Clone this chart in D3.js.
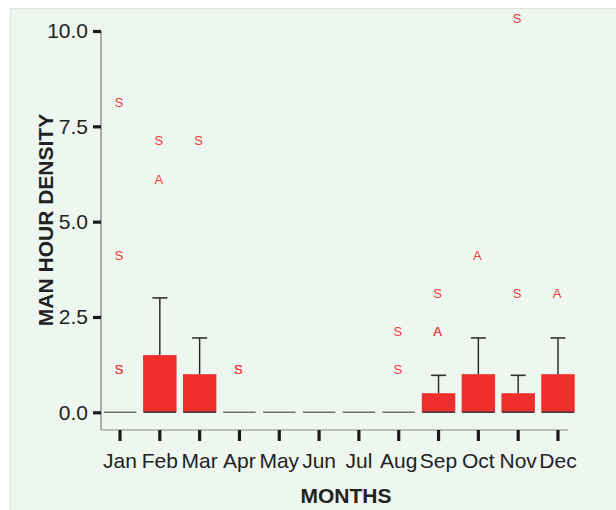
<!DOCTYPE html>
<html>
<head>
<meta charset="utf-8">
<script src="https://cdn.jsdelivr.net/npm/d3@7"></script>
<style>
  html, body { margin: 0; padding: 0; background: #ffffff; }
  svg { display: block; }
  text { font-family: "Liberation Sans", Arial, Helvetica, sans-serif; fill: #222; }
</style>
</head>
<body>
<svg id="chart" width="616" height="510"></svg>
<script>
// Monthly mean man-hour density with upper error bars
const months = ["Jan", "Feb", "Mar", "Apr", "May", "Jun", "Jul", "Aug", "Sep", "Oct", "Nov", "Dec"];
const meanDensity = [0, 1.5, 1.0, 0, 0, 0, 0, 0, 0.5, 1.0, 0.5, 1.0];
const upperError = [null, 3.0, 1.95, null, null, null, null, null, 0.97, 1.95, 0.97, 1.95];

// Individual outlying observations, labelled by type
const outlierMonth = ["Jan", "Jan", "Jan", "Jan", "Feb", "Feb", "Mar", "Apr", "Apr", "Aug", "Aug", "Sep", "Sep", "Sep", "Oct", "Nov", "Nov", "Dec"];
const outlierValue = [8, 4, 1, 1, 7, 6, 7, 1, 1, 2, 1, 3, 2, 2, 4, 10.2, 3, 3];
const outlierSymbol = ["S", "S", "S", "S", "S", "A", "S", "S", "S", "S", "S", "S", "A", "A", "A", "S", "S", "A"];

const yTicks = [0, 2.5, 5, 7.5, 10];

const svg = d3.select("#chart");

// Panel background
svg.append("rect")
  .attr("x", 10.5).attr("y", 8.5)
  .attr("width", 610).attr("height", 510)
  .attr("fill", "#edf6ef")
  .attr("stroke", "#dfe4e1");

const x = d3.scaleBand()
  .domain(months)
  .range([100.1, 577.9])
  .paddingInner(0.16)
  .paddingOuter(0.08);

const y = d3.scaleLinear()
  .domain([0, 10])
  .range([412.3, 31]);

const axisLeftX = 101;
const axisBottomY = 430;

// Axis lines
svg.append("line")
  .attr("x1", axisLeftX).attr("x2", axisLeftX)
  .attr("y1", y(10)).attr("y2", axisBottomY)
  .attr("stroke", "#7a7a7a").attr("stroke-width", 1.2);
svg.append("line")
  .attr("x1", axisLeftX).attr("x2", 568)
  .attr("y1", axisBottomY).attr("y2", axisBottomY)
  .attr("stroke", "#8a8a8a").attr("stroke-width", 1.2);

// Y axis ticks and labels
const gy = svg.append("g")
  .attr("transform", `translate(${axisLeftX},0)`)
  .call(d3.axisLeft(y).tickValues(yTicks).tickFormat(d3.format(".1f")).tickSize(8).tickPadding(5));
gy.select(".domain").remove();
gy.selectAll(".tick line").attr("stroke", "#1a1a1a").attr("stroke-width", 3.2);
gy.selectAll(".tick text").attr("font-size", 21).attr("fill", "#222")
  .style("font-family", "'Liberation Sans', Arial, sans-serif");

// X axis ticks and labels
const gx = svg.append("g")
  .attr("transform", `translate(0,${axisBottomY})`)
  .call(d3.axisBottom(x).tickSize(11).tickPadding(12.5));
gx.select(".domain").remove();
gx.selectAll(".tick line").attr("stroke", "#1a1a1a").attr("stroke-width", 3.2);
gx.selectAll(".tick text").attr("font-size", 21).attr("fill", "#222")
  .style("font-family", "'Liberation Sans', Arial, sans-serif");

// Bars
const barData = months.map((m, i) => ({ month: m, value: meanDensity[i], err: upperError[i] }));

svg.append("g").selectAll("rect")
  .data(barData.filter(d => d.value > 0))
  .join("rect")
  .attr("x", d => x(d.month))
  .attr("y", d => y(d.value))
  .attr("width", x.bandwidth())
  .attr("height", d => y(0) - y(d.value))
  .attr("fill", "#ef2e2e");

// Baseline stroke under each bar (visible alone for zero months)
svg.append("g").selectAll("line")
  .data(barData)
  .join("line")
  .attr("x1", d => x(d.month) + 0.5)
  .attr("x2", d => x(d.month) + x.bandwidth() - 0.5)
  .attr("y1", y(0)).attr("y2", y(0))
  .attr("stroke", d => d.value > 0 ? "#3a3a3a" : "#707070")
  .attr("stroke-width", 1.6);

// Error bars
const errG = svg.append("g");
const withErr = barData.filter(d => d.err !== null);
errG.selectAll("line.stem")
  .data(withErr)
  .join("line")
  .attr("class", "stem")
  .attr("x1", d => x(d.month) + x.bandwidth() / 2)
  .attr("x2", d => x(d.month) + x.bandwidth() / 2)
  .attr("y1", d => y(d.value))
  .attr("y2", d => y(d.err))
  .attr("stroke", "#222").attr("stroke-width", 1.4);
errG.selectAll("line.cap")
  .data(withErr)
  .join("line")
  .attr("class", "cap")
  .attr("x1", d => x(d.month) + x.bandwidth() / 2 - 7.5)
  .attr("x2", d => x(d.month) + x.bandwidth() / 2 + 7.5)
  .attr("y1", d => y(d.err))
  .attr("y2", d => y(d.err))
  .attr("stroke", "#333").attr("stroke-width", 1.6);

// Outlier symbols
const outliers = outlierMonth.map((m, i) => ({ month: m, value: outlierValue[i], sym: outlierSymbol[i] }));
svg.append("g").selectAll("text")
  .data(outliers)
  .join("text")
  .attr("x", d => x(d.month) + x.bandwidth() / 2 - 1)
  .attr("y", d => y(d.value))
  .attr("text-anchor", "middle")
  .attr("font-size", 13)
  .style("fill", "#ef3b3b")
  .text(d => d.sym);

// Axis titles
svg.append("text")
  .attr("x", 346).attr("y", 502.5)
  .attr("text-anchor", "middle")
  .attr("font-size", 21).attr("font-weight", "bold")
  .text("MONTHS");

svg.append("text")
  .attr("transform", "translate(52.5,220) rotate(-90)")
  .attr("text-anchor", "middle")
  .attr("font-size", 21).attr("font-weight", "bold")
  .text("MAN HOUR DENSITY");
</script>
</body>
</html>
